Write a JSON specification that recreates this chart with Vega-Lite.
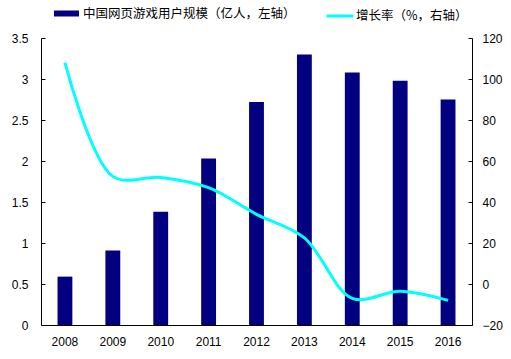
{
  "$schema": "https://vega.github.io/schema/vega-lite/v6.json",
  "width": 431,
  "height": 287,
  "autosize": "none",
  "padding": {"left": 41, "top": 38, "right": 39, "bottom": 34},
  "background": "white",
  "config": {
    "view": {"stroke": null},
    "axis": {"labelFont": "Liberation Sans", "labelFontSize": 12, "labelColor": "#000", "domainColor": "#000", "tickColor": "#000", "grid": false, "title": null},
    "legend": {"labelFont": "Noto Sans CJK SC", "labelFontSize": 12.5, "labelColor": "#000", "labelLimit": 400, "title": null}
  },
  "data": {
    "values": [
      {"year": "2008", "users": 0.59, "growth": 108},
      {"year": "2009", "users": 0.91, "growth": 52.5},
      {"year": "2010", "users": 1.38, "growth": 52},
      {"year": "2011", "users": 2.03, "growth": 47},
      {"year": "2012", "users": 2.72, "growth": 34},
      {"year": "2013", "users": 3.3, "growth": 22.5},
      {"year": "2014", "users": 3.08, "growth": -7},
      {"year": "2015", "users": 2.98, "growth": -3.5},
      {"year": "2016", "users": 2.75, "growth": -8}
    ]
  },
  "encoding": {
    "x": {
      "field": "year", "type": "ordinal",
      "scale": {"paddingInner": 0.69, "paddingOuter": 0.345},
      "axis": {"labelAngle": 0, "ticks": false, "labelPadding": 11}
    }
  },
  "layer": [
    {
      "mark": {"type": "bar"},
      "encoding": {
        "y": {
          "field": "users", "type": "quantitative",
          "scale": {"domain": [0, 3.5], "nice": false},
          "axis": {"orient": "left", "values": [0, 0.5, 1, 1.5, 2, 2.5, 3, 3.5], "format": ".1~f", "tickSize": -4, "labelPadding": 17}
        },
        "fill": {
          "datum": "中国网页游戏用户规模（亿人，左轴）",
          "scale": {"range": ["#000080"]},
          "legend": {"orient": "none", "legendX": 13, "legendY": -37, "symbolType": "M-1,-0.24H1V0.24H-1Z", "symbolSize": 625, "symbolOpacity": 1, "symbolStrokeWidth": 0, "labelOffset": 4}
        }
      }
    },
    {
      "mark": {"type": "line", "interpolate": "catmull-rom", "strokeWidth": 3},
      "encoding": {
        "y": {
          "field": "growth", "type": "quantitative",
          "scale": {"domain": [-20, 120], "nice": false},
          "axis": {"orient": "right", "values": [-20, 0, 20, 40, 60, 80, 100, 120], "format": "d", "tickSize": -4, "labelPadding": 14}
        },
        "stroke": {
          "datum": "增长率（%，右轴）",
          "scale": {"range": ["#00FFFF"]},
          "legend": {"orient": "none", "legendX": 284, "legendY": -37, "symbolType": "stroke", "symbolSize": 729, "symbolStrokeWidth": 3, "labelOffset": 1}
        }
      }
    }
  ],
  "resolve": {"scale": {"y": "independent"}}
}
